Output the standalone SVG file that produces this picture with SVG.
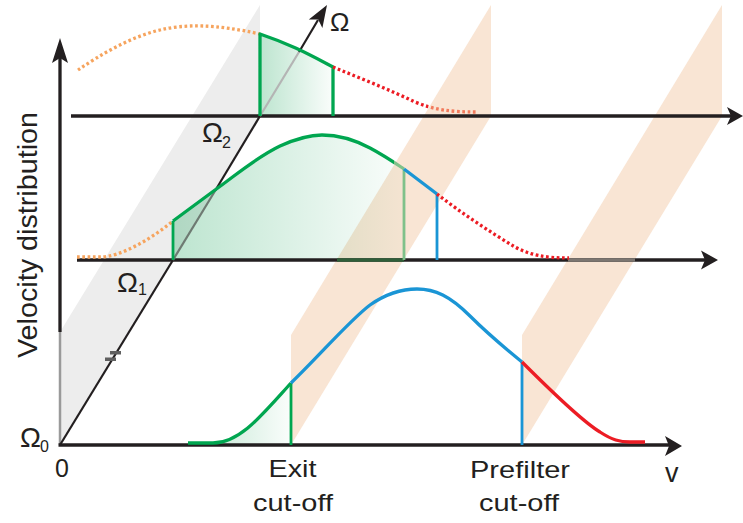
<svg xmlns="http://www.w3.org/2000/svg" width="743" height="523" viewBox="0 0 743 523">
<style>
text{font-family:"Liberation Sans",Arial,Helvetica,sans-serif;fill:#231f20}
.ax{stroke:#231f20;stroke-width:3.3;fill:none}
.ah{fill:#231f20}
.c{fill:none;stroke-width:3.3;stroke-linejoin:round}
.g{stroke:#00a650}
.b{stroke:#1a95d5}
.r{stroke:#ec1c24}
.dot{stroke-dasharray:2.7 2.6}
.o{stroke:#f6a45e}
.v{stroke-width:2.8;fill:none}
.band{fill:#f9e5d4}
</style>
<defs>
<linearGradient id="gf" x1="0" y1="0" x2="1" y2="0">
<stop offset="0" stop-color="#009a48" stop-opacity="0.26"/>
<stop offset="1" stop-color="#009a48" stop-opacity="0.02"/>
</linearGradient>
<linearGradient id="gmid" gradientUnits="userSpaceOnUse" x1="173" y1="0" x2="404" y2="0">
<stop offset="0.955" stop-color="#00a650"/>
<stop offset="0.955" stop-color="#7fc18a"/>
</linearGradient>
<linearGradient id="rtop" gradientUnits="userSpaceOnUse" x1="333" y1="0" x2="478" y2="0">
<stop offset="0.655" stop-color="#ec1c24"/>
<stop offset="0.655" stop-color="#f27a5c"/>
</linearGradient>
</defs>

<g id="bands">
<polygon id="band-gray" points="60,445 60,332 260,5 260,116" fill="#ededed"/>
<polygon id="band-exit" class="band" points="291,445 291,335 491,5 491,116"/>
<polygon id="band-prefilter" class="band" points="522,445 522,335 722,5 722,116"/>
</g>

<g id="fills">
<path d="M260,34 C290,44 310,55 333,67 L333,116 L260,116 Z" fill="url(#gf)"/>
<path d="M173,221 L215,190 C235,176 255,158 280,146 C300,137 315,135 322,135 C340,135 355,140 370,148 C385,156 395,163 404,169 L404,260 L173,260 Z" fill="url(#gf)"/>
<path d="M188,443 L213,443 C240,443 262,415 291,383 L291,445 L188,445 Z" fill="url(#gf)"/>
</g>

<g id="connectors">
<line class="ax" x1="60" y1="332" x2="60" y2="58"/>
<line x1="60" y1="332" x2="60" y2="445" stroke="#9a9a9a" stroke-width="2.5"/>
<polygon class="ah" points="60,38 68,63 60,58 52,63"/>
<line class="ax" x1="58.5" y1="445" x2="670" y2="445"/>
<polygon class="ah" points="682,446 665,436 669,446 665,456"/>
<line class="ax" x1="77" y1="260" x2="706" y2="260"/>
<line x1="337" y1="260" x2="404" y2="260" stroke="#2f5e39" stroke-width="3.3"/>
<line x1="568" y1="260" x2="635" y2="260" stroke="#7c7671" stroke-width="3.3"/>
<polygon class="ah" points="718,260 701,250.5 705,260 701,269.5"/>
<line class="ax" x1="71" y1="116" x2="732" y2="116"/>
<polygon class="ah" points="743,116 727,107 731,116 727,125"/>
<line x1="60" y1="445" x2="173" y2="260" stroke="#231f20" stroke-width="2.2"/>
<line x1="173" y1="260" x2="215" y2="191" stroke="#6e7a72" stroke-width="2.2"/>
<line x1="215" y1="191" x2="260" y2="116" stroke="#231f20" stroke-width="2.2"/>
<line x1="260" y1="116" x2="299" y2="52" stroke="#b4b4b4" stroke-width="2.2"/>
<line x1="299" y1="52" x2="318" y2="20" stroke="#231f20" stroke-width="2.2"/>
<polygon class="ah" points="327,5 322.4,28 318.2,19.5 308.8,19.6"/>
<rect x="110" y="351" width="11" height="3.5" fill="#5f5f5f"/>
<rect x="105" y="357.5" width="11" height="3.5" fill="#5f5f5f"/>
</g>

<g id="curve-omega2">
<path class="c o dot" d="M78,70 C100,55 130,37 160,30 C185,24 215,24 260,34"/>
<path class="c g" d="M260,116 L260,34 C290,44 310,55 333,67 L333,116"/>
<path class="c dot" stroke="url(#rtop)" d="M333,67 C360,78 390,90 415,102 C435,110 450,112 478,112"/>
</g>

<g id="curve-omega1">
<path class="c o dot" d="M77,257 L100,257 C120,257 150,240 173,221"/>
<line class="v g" x1="173" y1="221" x2="173" y2="260"/>
<path class="c" stroke="url(#gmid)" d="M173,221 L215,190 C235,176 255,158 280,146 C300,137 315,135 322,135 C340,135 355,140 370,148 C385,156 395,163 404,169"/>
<line class="v" stroke="#7fc18a" x1="404" y1="169" x2="404" y2="260"/>
<path class="c b" d="M404,169 L437,194"/>
<line class="v b" stroke-width="2.5" x1="437" y1="194" x2="437" y2="260"/>
<path class="c r dot" d="M437,194 C460,212 490,232 515,247 C530,255 545,258 569,258"/>
</g>

<g id="curve-omega0">
<path class="c g" d="M188,443 L213,443 C240,443 262,415 291,383"/>
<line class="v g" x1="291" y1="383" x2="291" y2="445"/>
<path class="c b" d="M291,383 C320,355 350,320 370,305 C390,291 405,289 417,289 C435,289 450,296 470,316 C490,336 505,348 522,362"/>
<line class="v b" stroke-width="2.5" x1="522" y1="362" x2="522" y2="445"/>
<path class="c r" d="M522,362 C545,385 580,420 600,432 C612,440 620,442 630,442 L645,442"/>
</g>

<g id="labels">
<text x="330" y="30.5" font-size="26">&#937;</text>
<text x="202" y="142" font-size="28">&#937;</text>
<text x="222" y="148" font-size="16">2</text>
<text x="117" y="291.7" font-size="28">&#937;</text>
<text x="138" y="295" font-size="16">1</text>
<text x="20" y="446.7" font-size="28">&#937;</text>
<text x="40" y="452" font-size="16">0</text>
<text x="55" y="477" font-size="25">0</text>
<text x="268.5" y="477.3" font-size="24" textLength="48" lengthAdjust="spacingAndGlyphs">Exit</text>
<text x="253" y="510.5" font-size="24" textLength="80" lengthAdjust="spacingAndGlyphs">cut-off</text>
<text x="470" y="478" font-size="24" textLength="100" lengthAdjust="spacingAndGlyphs">Prefilter</text>
<text x="479" y="510.5" font-size="24" textLength="80" lengthAdjust="spacingAndGlyphs">cut-off</text>
<text x="665" y="481.7" font-size="27">v</text>
<text transform="translate(36.5,358) rotate(-90)" font-size="28" textLength="246" lengthAdjust="spacingAndGlyphs">Velocity distribution</text>
</g>
</svg>
